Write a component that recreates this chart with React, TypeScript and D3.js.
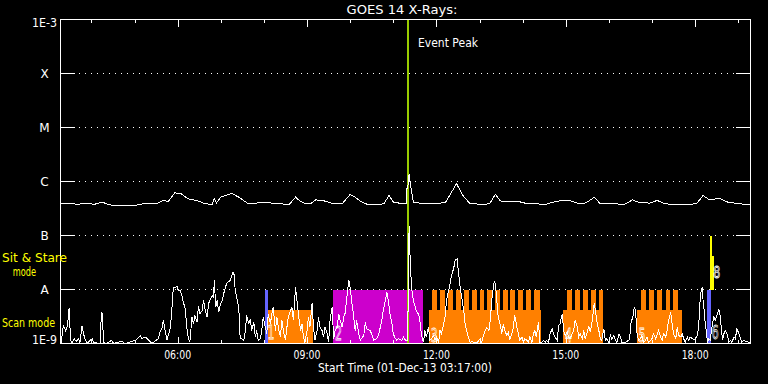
import React from "react";
import * as d3 from "d3";

// Start time 01-Dec-2013 03:17:00 UT; data times are minutes after start.
const START = Date.UTC(2013, 11, 1, 3, 17, 0);
const SPAN_MIN = 960;

const yTickValues = [1e-9, 1e-8, 1e-7, 1e-6, 1e-5, 1e-4, 1e-3];
const yTickLabels = ["1E-9", "A", "B", "C", "M", "X", "1E-3"];
const majorHours = [6, 9, 12, 15, 18];

// GOES 1-8 A channel: [minutes after start, log10 flux W/m^2]
const longChannel: [number, number][] = [
  [0, -6.41], [6, -6.4], [12, -6.41], [24, -6.42], [36, -6.41], [48, -6.42], [58, -6.38], [67, -6.43],
  [79, -6.45], [91, -6.44], [104, -6.44], [116, -6.41], [134, -6.41], [143, -6.35], [150, -6.37],
  [159, -6.21], [168, -6.23], [177, -6.32], [189, -6.35], [199, -6.4], [211, -6.43], [214, -6.32],
  [217, -6.4], [223, -6.29], [238, -6.22], [248, -6.29], [260, -6.4], [272, -6.4], [287, -6.38],
  [294, -6.4], [306, -6.41], [318, -6.43], [327, -6.29], [333, -6.36], [340, -6.41], [349, -6.4],
  [355, -6.34], [367, -6.36], [379, -6.41], [392, -6.41], [403, -6.24], [410, -6.29], [419, -6.38],
  [428, -6.43], [441, -6.43], [450, -6.41], [457, -6.26], [463, -6.38], [471, -6.4], [479, -6.41],
  [481, -6.41], [481.5, -6.13], [483, -6.13], [485, -5.87], [487, -6.07], [491, -6.39], [493, -6.38],
  [502, -6.41], [508, -6.4], [517, -6.41], [526, -6.41], [536, -6.38], [551, -6.04], [560, -6.26],
  [569, -6.4], [588, -6.43], [597, -6.41], [605, -6.24], [612, -6.36], [624, -6.38], [637, -6.37],
  [649, -6.41], [661, -6.41], [673, -6.43], [686, -6.38], [698, -6.35], [710, -6.36], [719, -6.4],
  [729, -6.4], [735, -6.36], [743, -6.29], [750, -6.4], [759, -6.41], [772, -6.41], [784, -6.43],
  [796, -6.34], [805, -6.39], [820, -6.4], [830, -6.35], [839, -6.4], [851, -6.43], [870, -6.43],
  [885, -6.41], [894, -6.26], [903, -6.34], [912, -6.32], [918, -6.32], [928, -6.38], [943, -6.41],
  [960, -6.43],
];

// GOES 0.5-4 A channel: [minutes after start, log10 flux W/m^2]
const shortChannel: [number, number][] = [
  [0, -9], [1, -8.98], [4, -8.67], [7, -8.76], [9, -8.7], [11, -8.51], [12, -8.34], [14, -8.94],
  [16, -9], [19, -8.91], [22, -8.96], [25, -8.91], [27, -8.98], [30, -8.67], [32, -8.82], [34, -8.91],
  [37, -9], [44, -8.91], [46, -8.98], [55, -9], [57, -8.41], [58, -8.45], [60, -8.98], [64, -9],
  [71, -8.94], [74, -9], [85, -8.96], [90, -9], [106, -8.93], [111, -8.85], [113, -8.91], [118, -8.88],
  [122, -8.93], [127, -9], [136, -8.91], [139, -8.76], [141, -8.73], [143, -8.57], [146, -8.79],
  [148, -8.94], [150, -8.85], [153, -8.7], [155, -8.36], [157, -7.96], [160, -7.97], [162, -7.94],
  [164, -8.02], [166, -8.01], [169, -8.11], [171, -8.26], [173, -8.3], [176, -8.73], [178, -8.91],
  [180, -8.96], [183, -8.51], [185, -8.64], [187, -8.48], [190, -8.61], [192, -8.3], [194, -8.45],
  [197, -8.39], [199, -8.2], [201, -8.36], [204, -8.51], [206, -8.26], [208, -8.2], [211, -8.11],
  [213, -8.14], [214, -7.83], [216, -8.33], [218, -8.2], [220, -8.42], [222, -8.3], [225, -8.2],
  [227, -8.08], [229, -7.99], [231, -7.89], [236, -7.83], [240, -7.68], [242, -7.74], [243, -8.02],
  [245, -8.14], [248, -8.33], [250, -8.91], [252, -8.91], [255, -8.94], [257, -8.79], [259, -8.48],
  [262, -8.64], [264, -8.54], [266, -8.76], [269, -8.61], [271, -8.88], [273, -8.76], [275, -8.94],
  [278, -8.91], [280, -8.76], [282, -8.51], [285, -8.7], [287, -8.82], [289, -8.45], [292, -8.64],
  [294, -8.45], [296, -8.33], [299, -8.76], [301, -8.51], [303, -8.7], [306, -8.88], [308, -8.57],
  [310, -8.76], [313, -8.94], [315, -8.7], [317, -8.51], [320, -8.39], [322, -8.33], [324, -8.57],
  [327, -7.96], [329, -8.2], [331, -8.45], [334, -8.76], [336, -8.64], [338, -8.88], [340, -8.98],
  [343, -8.76], [345, -8.51], [347, -8.7], [350, -8.26], [352, -8.7], [354, -8.94], [357, -8.76],
  [359, -8.51], [361, -8.7], [364, -8.76], [366, -8.88], [368, -8.7], [371, -8.82], [373, -8.98],
  [375, -8.57], [378, -8.33], [380, -8.91], [382, -8.76], [385, -8.7], [387, -8.45], [389, -8.57],
  [392, -8.7], [394, -8.51], [396, -8.44], [399, -8.08], [401, -7.82], [403, -7.96], [405, -8.2],
  [408, -8.51], [410, -8.76], [412, -8.57], [415, -8.82], [417, -8.94], [422, -8.85], [424, -8.61],
  [426, -8.73], [431, -8.76], [436, -8.94], [440, -8.91], [443, -8.82], [447, -8.57], [449, -8.39],
  [452, -8.2], [454, -8.05], [456, -8.2], [459, -8.51], [461, -8.61], [463, -8.82], [466, -8.91],
  [468, -8.94], [470, -8.91], [475, -8.94], [477, -8.88], [480, -8.94], [483, -8.94], [485, -6.83],
  [487, -7.65], [489, -8.02], [491, -8.2], [494, -8.35], [496, -8.42], [498, -8.45], [500, -8.57],
  [502, -8.82], [505, -8.98], [507, -8.76], [509, -8.88], [512, -8.7], [514, -8.94], [516, -8.91],
  [519, -8.85], [521, -8.94], [523, -8.88], [526, -8.98], [528, -8.76], [530, -8.82], [533, -8.64],
  [535, -8.51], [537, -8.2], [540, -8.02], [542, -7.89], [544, -7.74], [547, -7.61], [549, -7.46],
  [552, -7.43], [553, -7.59], [556, -7.96], [559, -8.2], [561, -8.39], [563, -8.64], [566, -8.82],
  [568, -8.91], [570, -8.98], [573, -8.96], [575, -8.98], [580, -8.98], [582, -8.94], [584, -8.91],
  [586, -8.98], [588, -8.88], [591, -8.76], [593, -8.7], [596, -8.76], [598, -8.57], [600, -8.2],
  [603, -7.89], [604, -7.86], [605, -7.89], [607, -8.2], [609, -8.51], [612, -8.67], [614, -8.82],
  [616, -8.64], [618, -8.76], [621, -8.85], [623, -8.79], [625, -8.94], [628, -8.82], [630, -8.7],
  [632, -8.48], [635, -8.7], [637, -8.82], [639, -8.94], [642, -8.88], [644, -8.98], [646, -8.91],
  [649, -8.94], [651, -8.98], [653, -8.88], [656, -8.98], [658, -8.82], [660, -8.76], [662, -8.88],
  [665, -8.61], [667, -8.98], [669, -8.98], [672, -8.94], [675, -8.98], [676, -8.94], [679, -8.98],
  [681, -8.82], [684, -8.73], [686, -8.82], [688, -8.88], [691, -8.94], [693, -8.67], [695, -8.64],
  [698, -8.45], [700, -8.76], [702, -8.85], [705, -8.79], [707, -8.88], [709, -8.91], [712, -8.82],
  [714, -8.76], [716, -8.57], [719, -8.7], [721, -8.88], [723, -8.82], [726, -8.91], [728, -8.76],
  [730, -8.91], [733, -8.79], [735, -8.67], [737, -8.79], [740, -8.57], [742, -8.3], [743, -8.25],
  [744, -8.39], [747, -8.64], [749, -8.76], [751, -8.91], [753, -8.94], [756, -8.73], [758, -8.94],
  [760, -8.91], [763, -8.98], [765, -8.85], [767, -8.93], [770, -8.85], [772, -8.94], [774, -8.98],
  [777, -8.82], [779, -8.88], [781, -8.98], [786, -8.98], [788, -8.96], [791, -8.94], [793, -8.76],
  [794, -8.57], [796, -8.54], [798, -8.36], [799, -8.33], [801, -8.57], [802, -8.79], [804, -8.94],
  [807, -8.91], [809, -8.85], [811, -8.98], [814, -8.94], [816, -8.88], [818, -8.98], [821, -8.94],
  [823, -8.91], [825, -8.82], [828, -8.91], [832, -8.76], [835, -8.88], [837, -8.94], [839, -8.82],
  [842, -8.88], [844, -8.76], [846, -8.57], [849, -8.42], [851, -8.64], [853, -8.82], [856, -8.91],
  [858, -8.7], [860, -8.85], [863, -8.88], [865, -8.82], [867, -8.91], [869, -8.98], [872, -8.88],
  [874, -8.94], [876, -8.88], [883, -8.94], [886, -8.85], [888, -8.7], [889, -8.33], [891, -8.05],
  [893, -7.96], [894, -8.2], [896, -8.45], [897, -8.64], [899, -8.82], [900, -8.98], [902, -8.91],
  [904, -8.94], [907, -8.64], [909, -8.51], [911, -8.57], [914, -8.45], [916, -8.36], [918, -8.51],
  [921, -8.94], [923, -8.82], [925, -8.76], [928, -8.85], [930, -8.98], [932, -8.94], [934, -8.98],
  [937, -8.88], [939, -8.91], [941, -8.73], [944, -8.82], [946, -8.91], [948, -8.98], [951, -8.94],
  [953, -8.96], [958, -8.98], [960, -8.99],
];

// Observation-mode intervals, minutes after start
const scanBlocks: [number, number][] = [[288, 351], [513, 668], [699, 755], [802, 864]];
const stareTeeth: [number, number][] = [
  [517, 524], [528, 535], [539, 546], [550, 557], [561, 568], [572, 579], [583, 589], [594, 600],
  [604, 611], [615, 622], [626, 633], [637, 644], [648, 655], [659, 667],
  [705, 712], [716, 723], [727, 734], [738, 745], [749, 755],
  [808, 815], [819, 826], [830, 837], [842, 848], [852, 859],
];
const magentaBlocks: [number, number][] = [[379, 504]];
const blueBars: [number, number][] = [[285, 288], [899, 905]];
const yellowBars: [number, number, number, number][] = [
  [903.5, 906.8, 1e-8, 1e-7],
  [906.8, 908.6, 1e-8, 4.1e-8],
];
const scanLevel = 4.1e-9;
const stareLevel = 1e-8;
const eventPeakMin = 483.3;
const annotations: { text: string; t: number; f: number; big: boolean }[] = [
  { text: "1", t: 288, f: 1.23e-9, big: true },
  { text: "2", t: 382, f: 1.17e-9, big: true },
  { text: "3", t: 515, f: 1.05e-9, big: true },
  { text: "4", t: 702, f: 1.05e-9, big: true },
  { text: "5", t: 804, f: 1.05e-9, big: true },
  { text: "6", t: 906, f: 1.23e-9, big: true },
  { text: "8", t: 908, f: 1.66e-8, big: false },
];

const toDate = (m: number) => new Date(START + m * 60000);

export default function App() {
  const W = 768, H = 384;
  const x = d3.scaleUtc().domain([toDate(0), toDate(SPAN_MIN)]).range([60.5, 750.5]);
  const y = d3.scaleLog().domain([1e-9, 1e-3]).range([343.5, 19.5]).clamp(true);

  const line = d3
    .line<[number, number]>()
    .x((d) => x(toDate(d[0])))
    .y((d) => y(Math.pow(10, d[1])));

  const hourTicks = d3.utcHour.range(toDate(0), toDate(SPAN_MIN));
  const fmt = d3.utcFormat("%H:%M");
  const font = "'DejaVu Sans', sans-serif";

  const rectFor = (t0: number, t1: number, lo: number, hi: number, fill: string, key: string) => (
    <rect
      key={key}
      x={x(toDate(t0))}
      width={x(toDate(t1)) - x(toDate(t0))}
      y={y(hi)}
      height={y(lo) - y(hi)}
      fill={fill}
    />
  );

  return (
    <svg
      width={W}
      height={H}
      style={{ position: "absolute", left: 0, top: 0, display: "block" }}
      shapeRendering="crispEdges"
    >
      <rect x={0} y={0} width={W} height={H} fill="#000" />

      {/* dotted level lines and level ticks */}
      {yTickValues.slice(1, -1).map((v) => (
        <g key={"g" + v}>
          <line x1={79} x2={736} y1={y(v)} y2={y(v)} stroke="#fff" strokeDasharray="1 5" />
          <line x1={60.5} x2={75} y1={y(v)} y2={y(v)} stroke="#fff" />
          <line x1={736} x2={750.5} y1={y(v)} y2={y(v)} stroke="#fff" />
        </g>
      ))}

      {/* observation mode bars */}
      {scanBlocks.map((b, i) => rectFor(b[0], b[1], 1e-9, scanLevel, "#ff8000", "s" + i))}
      {stareTeeth.map((b, i) => rectFor(b[0], b[1], 1e-9, stareLevel, "#ff8000", "t" + i))}
      {magentaBlocks.map((b, i) => rectFor(b[0], b[1], 1e-9, stareLevel, "#cc00cc", "m" + i))}
      {blueBars.map((b, i) => rectFor(b[0], b[1], 1e-9, stareLevel, "#6464ff", "b" + i))}
      {yellowBars.map((b, i) => rectFor(b[0], b[1], b[2], b[3], "#ffff00", "y" + i))}

      {/* event peak */}
      <line
        x1={x(toDate(eventPeakMin))}
        x2={x(toDate(eventPeakMin))}
        y1={19.5}
        y2={343.5}
        stroke="#99cc00"
        strokeWidth={2.4}
      />

      {/* data */}
      <path d={line(longChannel) || ""} fill="none" stroke="#fff" strokeWidth={1} />
      <path d={line(shortChannel) || ""} fill="none" stroke="#fff" strokeWidth={1} />

      {/* hollow annotation digits */}
      {annotations.map((a, i) => (
        <text
          key={"a" + i}
          x={x(toDate(a.t))}
          y={y(a.f)}
          fontFamily={font}
          fontSize={a.big ? 20 : 15}
          textLength={7}
          lengthAdjust="spacingAndGlyphs"
          fill="none"
          stroke="#fff"
          strokeWidth={0.8}
          shapeRendering="auto"
        >
          {a.text}
        </text>
      ))}

      {/* frame */}
      <rect x={60.5} y={19.5} width={690} height={324} fill="none" stroke="#fff" />

      {/* time ticks */}
      {hourTicks.map((d, i) => {
        const major = majorHours.includes(d.getUTCHours());
        const len = major ? 7 : 3.5;
        const px = Math.round(x(d)) + 0.5;
        return (
          <g key={"h" + i}>
            <line x1={px} x2={px} y1={19.5} y2={19.5 + len} stroke="#fff" />
            <line x1={px} x2={px} y1={343.5} y2={343.5 - len} stroke="#fff" />
            {major && (
              <text
                x={x(d)}
                y={359}
                fill="#fff"
                fontFamily={font}
                fontSize={12}
                textAnchor="middle"
                textLength={27}
                lengthAdjust="spacingAndGlyphs"
              >
                {fmt(d)}
              </text>
            )}
          </g>
        );
      })}

      {/* level labels */}
      {yTickValues.map((v, i) => {
        const lab = yTickLabels[i];
        const off = v === 1e-3 ? 7.2 : v === 1e-9 ? 0.5 : 4.5;
        const isNum = lab.length > 1;
        return (
          <text
            key={"yl" + i}
            x={44.5}
            y={y(v) + off}
            fill="#fff"
            fontFamily={font}
            fontSize={12}
            textAnchor="middle"
            {...(isNum ? { textLength: 25, lengthAdjust: "spacingAndGlyphs" } : {})}
          >
            {lab}
          </text>
        );
      })}

      <text x={402} y={14.3} fill="#fff" fontFamily={font} fontSize={12.5} textAnchor="middle"
        textLength={111} lengthAdjust="spacingAndGlyphs">
        GOES 14 X-Rays:
      </text>
      <text x={418} y={47.3} fill="#fff" fontFamily={font} fontSize={12.5}
        textLength={60} lengthAdjust="spacingAndGlyphs">
        Event Peak
      </text>
      <text x={405} y={372} fill="#fff" fontFamily={font} fontSize={12} textAnchor="middle"
        textLength={174} lengthAdjust="spacingAndGlyphs">
        Start Time (01-Dec-13 03:17:00)
      </text>

      <text x={2} y={262} fill="#ffff00" fontFamily={font} fontSize={12}
        textLength={65} lengthAdjust="spacingAndGlyphs">
        Sit &amp; Stare
      </text>
      <text x={12.7} y={275.5} fill="#ffff00" fontFamily={font} fontSize={12}
        textLength={23.3} lengthAdjust="spacingAndGlyphs">
        mode
      </text>
      <text x={2} y={327} fill="#ffff00" fontFamily={font} fontSize={12}
        textLength={53} lengthAdjust="spacingAndGlyphs">
        Scan mode
      </text>
    </svg>
  );
}
